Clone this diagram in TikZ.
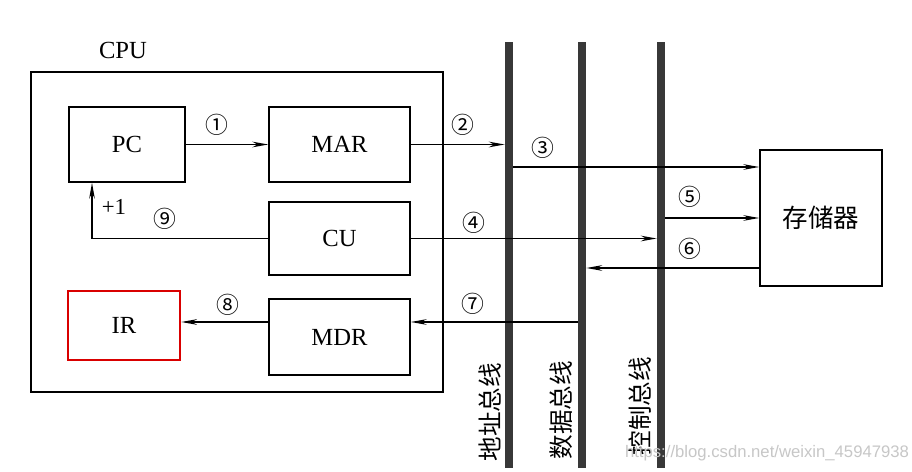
\documentclass[tikz,border=0pt]{standalone}
\usepackage{fontspec}
\setmainfont{Liberation Serif}
\newfontfamily\cjk{Noto Sans CJK SC}
\newfontfamily\wm{Liberation Sans}
\usetikzlibrary{arrows.meta}
\begin{document}
\begin{tikzpicture}[x=0.02cm,y=-0.02cm,
  box/.style={draw,line width=0.9pt,inner sep=0pt,font=\fontsize{14}{15}\selectfont},
  arr/.style={line width=0.9pt,-{Stealth[length=9pt,width=3.2pt]}},
  bus/.style={fill=black!78,draw=none,minimum width=0.16cm,minimum height=8.52cm,inner sep=0pt},
  num/.style={font=\cjk\fontsize{13}{14}\selectfont,inner sep=0pt},
  buslabel/.style={font=\cjk\fontsize{14}{15}\selectfont,rotate=90,inner sep=0pt}]
\useasboundingbox[fill=white] (0,0) rectangle (912,472);
% CPU
\node[box,minimum width=8.24cm,minimum height=6.4cm] (cpu) at (237,232) {};
\node[font=\fontsize{14}{15}\selectfont] (cpulbl) at (123,50) {CPU};
\node[box,minimum width=2.32cm,minimum height=1.5cm] (pc) at (127,144.5) {PC};
\node[box,minimum width=2.82cm,minimum height=1.5cm] (mar) at (339.5,144.5) {MAR};
\node[box,minimum width=2.82cm,minimum height=1.46cm] (cu) at (339.5,238.5) {CU};
\node[box,minimum width=2.82cm,minimum height=1.52cm] (mdr) at (339.5,337) {MDR};
\node[box,draw=red!85!black,line width=1.4pt,minimum width=2.24cm,minimum height=1.38cm] (ir) at (124,325.5) {IR};
\node[box,minimum width=2.44cm,minimum height=2.72cm,font=\cjk\fontsize{14.5}{15}\selectfont] (mem) at (821,218) {存储器};
% buses
\node[bus] (abus) at (509,255) {};
\node[bus] (dbus) at (582,255) {};
\node[bus] (cbus) at (661,255) {};
\node[buslabel] (alab) at (490,412) {地址总线};
\node[buslabel] (dlab) at (561,410) {数据总线};
\node[buslabel] (clab) at (640,406) {控制总线};
% helper coordinates
\coordinate (y3) at (0,167);
\coordinate (y6) at (0,268);
\coordinate (y7) at (0,322);
\coordinate (x9) at (92,0);
% connectors
\draw[arr] (pc.east) -- (mar.west);
\draw[arr] (mar.east) -- (abus.west |- mar.east);
\draw[arr] (abus.east |- y3) -- (mem.west |- y3);
\draw[arr] (cu.east) -- (cbus.west |- cu.east);
\draw[arr] (cbus.east |- mem.west) -- (mem.west);
\draw[arr] (mem.west |- y6) -- (dbus.east |- y6);
\draw[arr] (dbus.west |- y7) -- (mdr.east |- y7);
\draw[arr] (mdr.west |- y7) -- (ir.east |- y7);
\draw[arr] (cu.west) -| (pc.south -| x9);
% labels
\node[num] (n1) at (217,125) {①};
\node[num] (n2) at (463,125) {②};
\node[num] (n3) at (543,148) {③};
\node[num] (n4) at (474,223) {④};
\node[num] (n5) at (690,197) {⑤};
\node[num] (n6) at (690,249) {⑥};
\node[num] (n7) at (473,304) {⑦};
\node[num] (n8) at (228,305) {⑧};
\node[num] (n9) at (165,219) {⑨};
\node[font=\fontsize{13}{14}\selectfont,inner sep=0pt] (p1) at (114,207) {+1};
\node[font=\wm\fontsize{9.5}{10}\selectfont,text=black!22,inner sep=0pt] (wmk) at (767,453) {https://blog.csdn.net/weixin\_45947938};
\end{tikzpicture}
\end{document}
